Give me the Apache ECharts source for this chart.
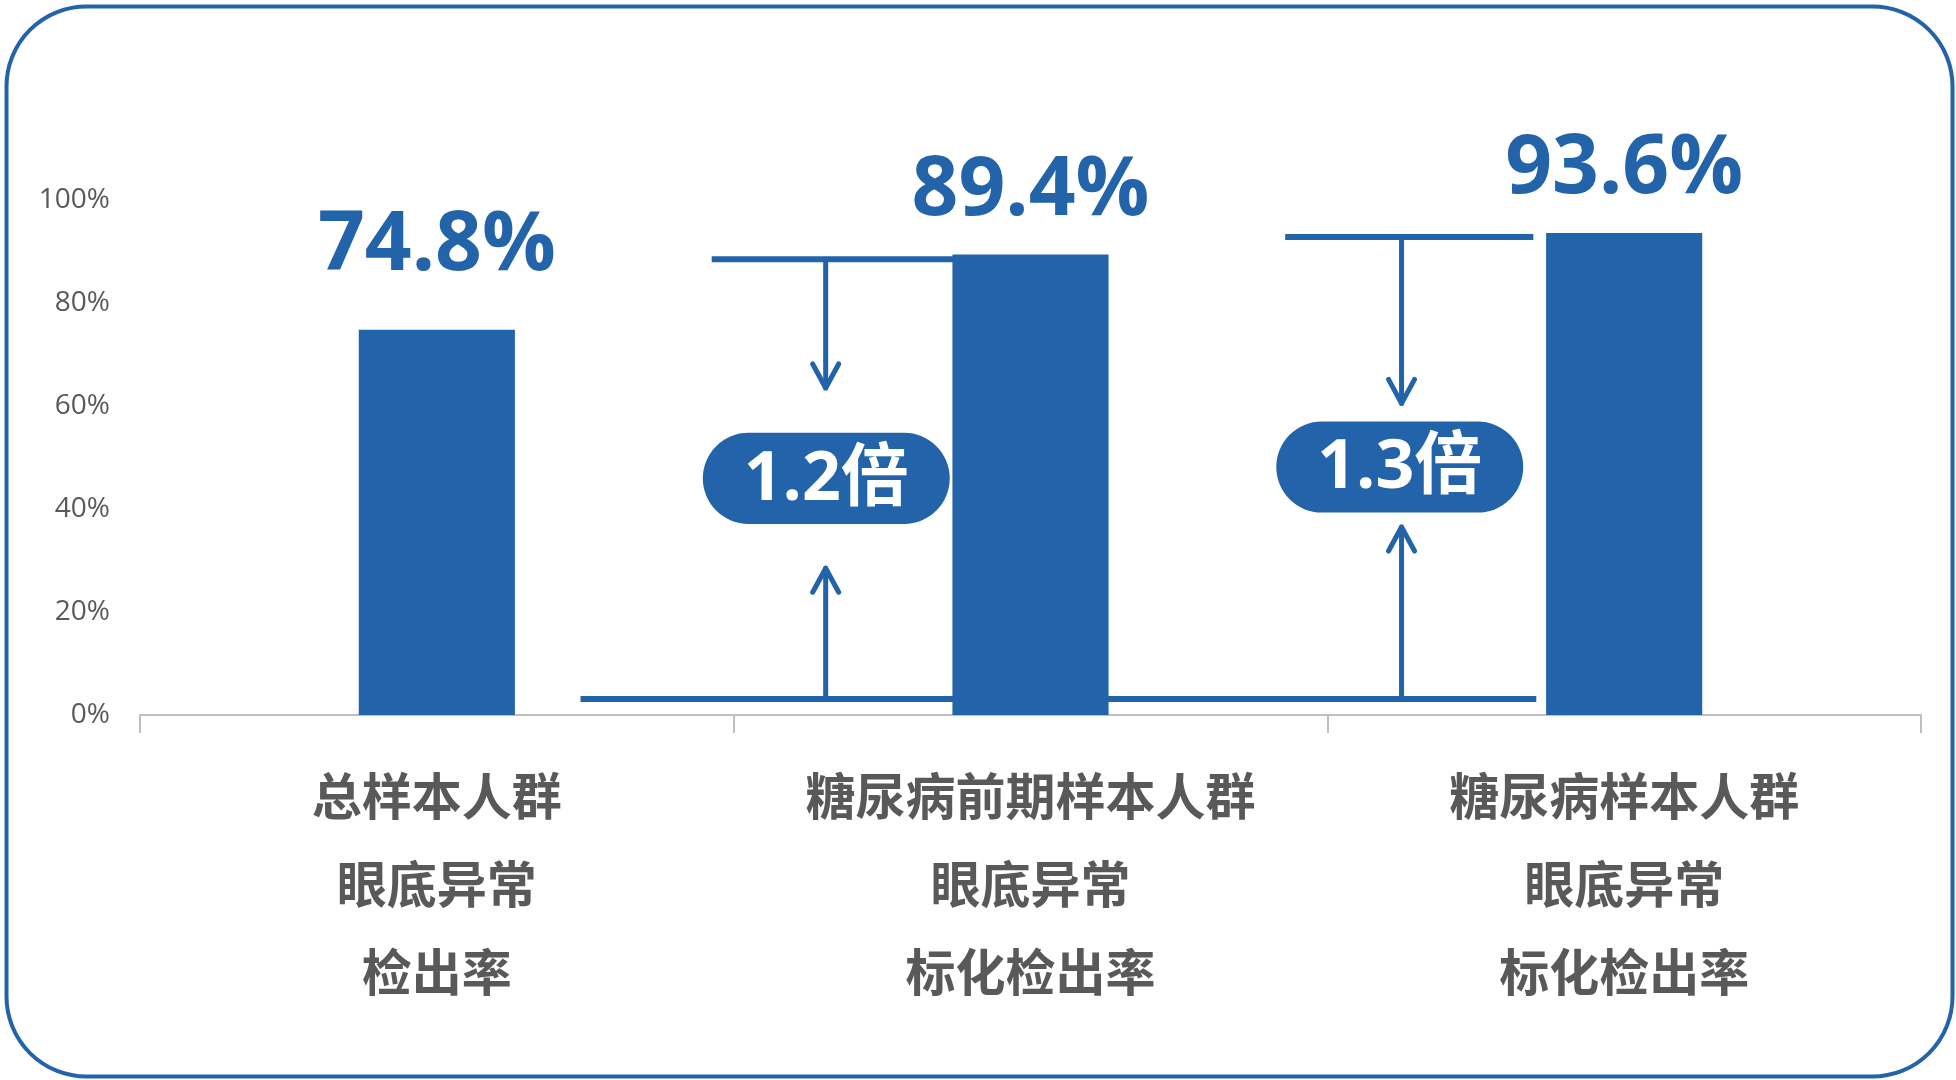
<!DOCTYPE html>
<html>
<head>
<meta charset="utf-8">
<style>
html, body { margin: 0; padding: 0; background: #fff; }
#dataView { width: 1956px; height: 1080px; }
</style>
<script src="https://cdn.jsdelivr.net/npm/echarts@6/dist/echarts.min.js"></script>
</head>
<body>
<div id="dataView"></div>
<script>
// 类目与检出率
var categories = [
	'总样本人群\n眼底异常\n检出率',
	'糖尿病前期样本人群\n眼底异常\n标化检出率',
	'糖尿病样本人群\n眼底异常\n标化检出率'
];
var rates = [74.8, 89.4, 93.6];
var ratios = ['1.2倍', '1.3倍'];
var yTicks = [0, 20, 40, 60, 80, 100];

var BLUE = '#2263aa';
var GRAY = '#595959';

// 倍数标注的位置（x 为隐藏数值轴 0~3，y 为百分比）
var baseLevel = 3.1;
var baseSpan = [0.742, 2.352];
var brackets = [
	{ x: 1.155, top: 88.5, topSpan: [0.963, 1.37], downTo: 63.5, pill: [0.948, 1.364, 54.8, 37.1], upTo: 28.5 },
	{ x: 2.125, top: 92.8, topSpan: [1.929, 2.347], downTo: 60.5, pill: [1.914, 2.33, 57.0, 39.3], upTo: 36.5 }
];

function renderBracket(params, api) {
	var b = brackets[params.dataIndex];
	var lineStyle = { stroke: BLUE, lineWidth: 5, lineCap: 'round', lineJoin: 'round', fill: null };
	var children = [];
	if (params.dataIndex === 0) {
		var b0 = api.coord([baseSpan[0], baseLevel]);
		var b1 = api.coord([baseSpan[1], baseLevel]);
		children.push({ type: 'line', shape: { x1: b0[0], y1: b0[1], x2: b1[0], y2: b1[1] },
			style: { stroke: BLUE, lineWidth: 6 } });
	}
	var t0 = api.coord([b.topSpan[0], b.top]);
	var t1 = api.coord([b.topSpan[1], b.top]);
	children.push({ type: 'line', shape: { x1: t0[0], y1: t0[1], x2: t1[0], y2: t1[1] },
		style: { stroke: BLUE, lineWidth: 6 } });
	// 向下箭头
	var top = api.coord([b.x, b.top]);
	var down = api.coord([b.x, b.downTo]);
	children.push({ type: 'line', shape: { x1: top[0], y1: top[1], x2: down[0], y2: down[1] }, style: lineStyle });
	children.push({ type: 'polyline', shape: { points: [[down[0] - 13, down[1] - 24], [down[0], down[1]], [down[0] + 13, down[1] - 24]] }, style: lineStyle });
	// 向上箭头
	var base = api.coord([b.x, baseLevel]);
	var up = api.coord([b.x, b.upTo]);
	children.push({ type: 'line', shape: { x1: base[0], y1: base[1], x2: up[0], y2: up[1] }, style: lineStyle });
	children.push({ type: 'polyline', shape: { points: [[up[0] - 13, up[1] + 24], [up[0], up[1]], [up[0] + 13, up[1] + 24]] }, style: lineStyle });
	// 胶囊标签
	var pa = api.coord([b.pill[0], b.pill[2]]);
	var pb = api.coord([b.pill[1], b.pill[3]]);
	var h = pb[1] - pa[1];
	children.push({ type: 'rect', shape: { x: pa[0], y: pa[1], width: pb[0] - pa[0], height: h, r: h / 2 },
		style: { fill: BLUE } });
	children.push({ type: 'text', x: (pa[0] + pb[0]) / 2, y: (pa[1] + pb[1]) / 2 + 2,
		style: { text: ratios[params.dataIndex], fill: '#fff', align: 'center', verticalAlign: 'middle',
			font: 'bold 68px "Open Sans", "Noto Sans CJK SC", sans-serif' } });
	return { type: 'group', children: children };
}

var dataViewcharts = echarts.init(document.getElementById('dataView'));
var dataViewoption = {
	animation: false,
	backgroundColor: '#fff',
	grid: { left: 140, right: 35, top: 200, bottom: 365 },
	graphic: [{
		type: 'rect',
		left: 4, top: 4,
		shape: { width: 1946, height: 1070, r: 80 },
		style: { fill: null, stroke: BLUE, lineWidth: 4 },
		z: -1
	}],
	xAxis: [{
		type: 'category',
		data: categories,
		axisLine: { lineStyle: { color: '#bfbfbf', width: 2 } },
		axisTick: { show: true, interval: 0, length: 18, lineStyle: { color: '#bfbfbf', width: 2 } },
		axisLabel: {
			interval: 0, hideOverlap: false,
			color: GRAY, fontSize: 50, fontWeight: 'bold', lineHeight: 88, margin: 37,
			fontFamily: '"Noto Sans CJK SC", sans-serif'
		}
	}, {
		type: 'value', min: 0, max: 3, show: false
	}],
	yAxis: {
		type: 'value', min: 0, max: 100, interval: 20,
		axisLine: { show: false },
		axisTick: { show: false },
		splitLine: { show: false },
		axisLabel: {
			formatter: '{value}%', color: GRAY, fontSize: 28, margin: 30,
			fontFamily: '"Open Sans", "Noto Sans", sans-serif'
		}
	},
	series: [{
		type: 'custom',
		xAxisIndex: 1,
		z: 1,
		renderItem: renderBracket,
		data: brackets.map(function (b) { return [b.x, b.top]; })
	}, {
		type: 'bar',
		z: 3,
		barWidth: '26.3%',
		itemStyle: { color: BLUE },
		label: {
			show: true, position: 'top',
			formatter: '{c}%',
			color: BLUE, fontSize: 82, fontWeight: 'bold',
			fontFamily: '"Open Sans", "Noto Sans", sans-serif'
		},
		data: rates.map(function (v, i) {
			return { value: v, label: { distance: i === 0 ? 42 : 22 } };
		})
	}]
};
dataViewcharts.setOption(dataViewoption);
</script>
</body>
</html>
